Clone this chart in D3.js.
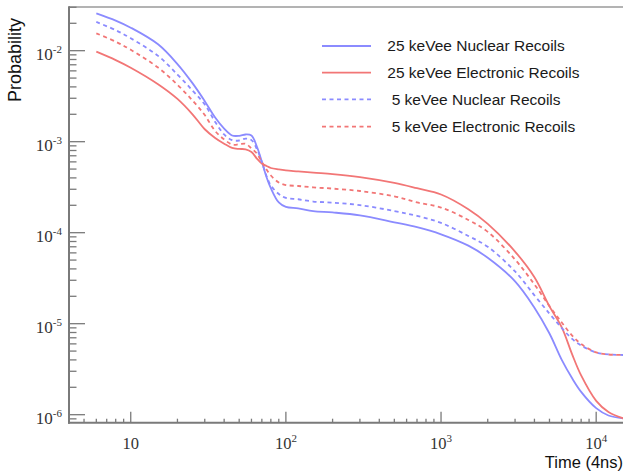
<!DOCTYPE html>
<html><head><meta charset="utf-8">
<script src="https://cdn.jsdelivr.net/npm/d3@7/dist/d3.min.js"></script>
<style>body{margin:0;background:#fff}</style>
</head><body><svg id="c" width="623" height="475"></svg>
<script>
const times = [6,8,10,15,20,25,30,35,40,45,50,55,60,65,70,75,80,90,100,120,150,200,300,500,700,1000,1500,2000,3000,4000,5000,6000,7000,8000,10000,12000,15000];
const nuclear25 = [0.0257,0.0214,0.0179,0.01175,0.00713,0.00440,0.00279,0.00184,0.00139,0.00117,0.00116,0.00120,0.00117,0.000885,0.000603,0.000409,0.000308,0.000215,0.000192,0.000185,0.000173,0.000167,0.000155,0.000130,0.000115,9.6e-5,7.2e-5,5.3e-5,2.92e-5,1.50e-5,7.8e-6,4.0e-6,2.51e-6,1.78e-6,1.18e-6,9.8e-7,9.1e-7];
const electronic25 = [0.00975,0.00788,0.00650,0.00428,0.00295,0.00200,0.00137,0.00110,0.000951,0.000853,0.000832,0.000825,0.000771,0.000653,0.000575,0.000541,0.000514,0.000495,0.000483,0.000471,0.000456,0.000441,0.000409,0.000353,0.000308,0.000263,0.000181,0.000125,6.2e-5,3.24e-5,1.55e-5,9.1e-6,4.6e-6,2.7e-6,1.42e-6,1.07e-6,9.1e-7];
const nuclear5 = [0.0207,0.0168,0.0137,0.00877,0.00547,0.00365,0.00256,0.00165,0.00120,0.00104,0.00103,0.00108,0.00104,0.000832,0.000598,0.000420,0.000330,0.000266,0.000241,0.000233,0.000220,0.000214,0.000201,0.000173,0.000153,0.000128,9.2e-5,7.0e-5,3.75e-5,2.05e-5,1.29e-5,8.97e-6,6.8e-6,5.76e-6,4.83e-6,4.59e-6,4.53e-6];
const electronic5 = [0.0155,0.01256,0.01023,0.00652,0.00422,0.00284,0.00196,0.00131,0.00106,0.000931,0.000935,0.000948,0.000841,0.000741,0.000598,0.000495,0.000425,0.000356,0.000334,0.000326,0.000315,0.000305,0.000287,0.000251,0.000215,0.000189,0.000138,1.02e-4,5.07e-5,2.70e-5,1.56e-5,1.03e-5,7.4e-6,5.98e-6,4.83e-6,4.59e-6,4.53e-6];
const seriesNames = ["25 keVee Nuclear Recoils","25 keVee Electronic Recoils","5 keVee Nuclear Recoils","5 keVee Electronic Recoils"];
const xMajorExp = [1,2,3,4];
const yMajorExp = [-2,-3,-4,-5,-6];
const xLabel = "Time (4ns)";
const yLabel = "Probability";

const series = [
  {name: seriesNames[0], values: nuclear25, color: "#8b8bff", dash: null},
  {name: seriesNames[1], values: electronic25, color: "#f27676", dash: null},
  {name: seriesNames[2], values: nuclear5, color: "#8b8bff", dash: "4,3.5"},
  {name: seriesNames[3], values: electronic5, color: "#f27676", dash: "4,3.5"}
];

const L = 69, R = 623.5, T = 7, B = 422.7;
const svg = d3.select("#c");
const x = d3.scaleLog().domain([4, 15000]).range([L, R]);
const y = d3.scaleLog().domain([Math.pow(10, -6.088), Math.pow(10, -1.52)]).range([B, T]);

svg.append("defs").append("clipPath").attr("id", "clip")
  .append("rect").attr("x", L).attr("y", T).attr("width", R - L).attr("height", B - T);

const line = d3.line().x(d => x(d[0])).y(d => y(d[1])).curve(d3.curveCatmullRom.alpha(0.5));
const plot = svg.append("g").attr("clip-path", "url(#clip)");
series.forEach(s => {
  plot.append("path")
    .datum(times.map((t, i) => [t, s.values[i]]))
    .attr("d", line)
    .attr("fill", "none")
    .attr("stroke", s.color)
    .attr("stroke-width", 1.8)
    .attr("stroke-dasharray", s.dash);
});

const axisColor = "#7a7a7a";
const ax = svg.append("g");
ax.append("line").attr("x1", L).attr("x2", 623).attr("y1", T).attr("y2", T)
  .attr("stroke", "#9a9a9a").attr("stroke-width", 1.5);
const xTicks = [];
for (let e = 0; e <= 4; e++) for (let m = 1; m <= 9; m++) {
  const v = m * Math.pow(10, e);
  if (v >= 4 && v <= 15000) xTicks.push({v, major: m === 1});
}
ax.selectAll("line.xt").data(xTicks).enter().append("line")
  .attr("x1", d => x(d.v)).attr("x2", d => x(d.v))
  .attr("y1", B).attr("y2", d => B - (d.major ? 11 : 4))
  .attr("stroke", axisColor).attr("stroke-width", 1.3);
const yTicks = [];
for (let e = -7; e <= -2; e++) for (let m = 1; m <= 9; m++) {
  const v = m * Math.pow(10, e);
  if (v >= y.domain()[0] && v <= y.domain()[1]) yTicks.push({v, major: m === 1});
}
ax.selectAll("line.yt").data(yTicks).enter().append("line")
  .attr("y1", d => y(d.v)).attr("y2", d => y(d.v))
  .attr("x1", L).attr("x2", d => L + (d.major ? 16 : 7.5))
  .attr("stroke", axisColor).attr("stroke-width", 1.3);
ax.append("line").attr("x1", L).attr("x2", L).attr("y1", T - 0.7).attr("y2", B + 1)
  .attr("stroke", axisColor).attr("stroke-width", 2);
ax.append("line").attr("x1", L - 1).attr("x2", 623).attr("y1", B).attr("y2", B)
  .attr("stroke", axisColor).attr("stroke-width", 2);

const serif = "'Liberation Serif', 'Times New Roman', serif";
const sans = "'Liberation Sans', Arial, Helvetica, sans-serif";
yMajorExp.forEach(e => {
  const t = svg.append("text").attr("x", 62).attr("y", y(Math.pow(10, e)) + 9.5)
    .attr("text-anchor", "end").attr("font-family", serif).attr("font-size", 17).attr("fill", "#333");
  t.append("tspan").text("10");
  t.append("tspan").attr("dy", -7).attr("font-size", 11).text(String(e));
});
xMajorExp.forEach(e => {
  const t = svg.append("text").attr("x", x(Math.pow(10, e))).attr("y", 449)
    .attr("text-anchor", "middle").attr("font-family", serif).attr("font-size", 16.5).attr("fill", "#333");
  t.append("tspan").text("10");
  if (e !== 1) t.append("tspan").attr("dy", -7).attr("font-size", 11).text(e);
});
svg.append("text").attr("x", 623).attr("y", 468).attr("text-anchor", "end")
  .attr("font-family", sans).attr("font-size", 16.5).attr("fill", "#111").text(xLabel);
svg.append("text").attr("transform", "translate(21,60) rotate(-90)").attr("text-anchor", "middle")
  .attr("font-family", sans).attr("font-size", 18).attr("fill", "#111").text(yLabel);

const legY = [46, 72.7, 99.3, 126.7];
const legTextX = [387.3, 387.3, 391.7, 391.7];
series.forEach((s, i) => {
  svg.append("line").attr("x1", 322).attr("x2", 371).attr("y1", legY[i]).attr("y2", legY[i])
    .attr("stroke", s.color).attr("stroke-width", 1.8).attr("stroke-dasharray", s.dash);
  svg.append("text").attr("x", legTextX[i]).attr("y", legY[i] + 5.4)
    .attr("font-family", sans).attr("font-size", 15.5).attr("fill", "#1a1a1a").text(s.name);
});
</script></body></html>
